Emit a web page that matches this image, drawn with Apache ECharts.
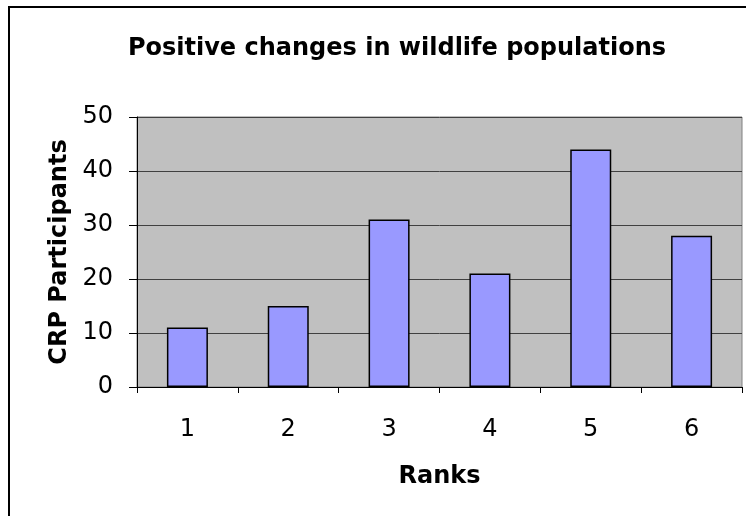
<!DOCTYPE html>
<html>
<head>
<meta charset="utf-8">
<script src="https://cdn.jsdelivr.net/npm/echarts@6/dist/echarts.min.js"></script>
<style>
  html, body { margin: 0; padding: 0; background: #fff; }
  #chart { width: 746px; height: 516px; }
</style>
</head>
<body>
<div id="chart"></div>
<script>
var ranks = ['1', '2', '3', '4', '5', '6'];
var participants = [11, 15, 31, 21, 44, 28];

var myChart = echarts.init(document.getElementById('chart'));

var option = {
    animation: false,
    textStyle: { fontFamily: 'DejaVu Sans, sans-serif' },
    title: {
        text: 'Positive changes in wildlife populations',
        left: 392,
        textAlign: 'center',
        top: 32,
        textStyle: {
            fontSize: 24,
            fontWeight: 'bold',
            color: '#000'
        }
    },
    // outer chart frame, cut off on right and bottom
    graphic: [{
        type: 'rect',
        shape: { x: 9, y: 7, width: 800, height: 600 },
        style: { fill: 'none', stroke: '#000', lineWidth: 2 },
        silent: true
    }],
    grid: {
        left: 137,
        top: 117,
        right: 4,
        bottom: 129,
        show: true,
        backgroundColor: '#C0C0C0',
        borderColor: '#808080',
        borderWidth: 1
    },
    xAxis: {
        type: 'category',
        data: ranks,
        name: 'Ranks',
        nameLocation: 'middle',
        nameGap: 78,
        nameTextStyle: { fontSize: 24, fontWeight: 'bold', color: '#000' },
        axisLine: { lineStyle: { color: '#000', width: 1 } },
        axisTick: { show: true, length: 6, lineStyle: { color: '#000' } },
        axisLabel: { fontSize: 24, color: '#000', margin: 31 }
    },
    yAxis: {
        type: 'value',
        min: 0,
        max: 50,
        interval: 10,
        name: 'CRP Participants',
        nameLocation: 'middle',
        nameGap: 58,
        nameTextStyle: { fontSize: 24, fontWeight: 'bold', color: '#000' },
        axisLine: { show: true, lineStyle: { color: '#000', width: 1 } },
        axisTick: { show: true, length: 8, lineStyle: { color: '#000' } },
        axisLabel: { fontSize: 24, color: '#000', margin: 24 },
        splitLine: { show: true, lineStyle: { color: '#404040', width: 1 } }
    },
    series: [{
        name: 'CRP Participants',
        type: 'bar',
        data: participants,
        barWidth: 41,
        itemStyle: {
            color: '#9999FF',
            borderColor: '#000',
            borderWidth: 1.5
        }
    }]
};

myChart.setOption(option);
</script>
</body>
</html>
